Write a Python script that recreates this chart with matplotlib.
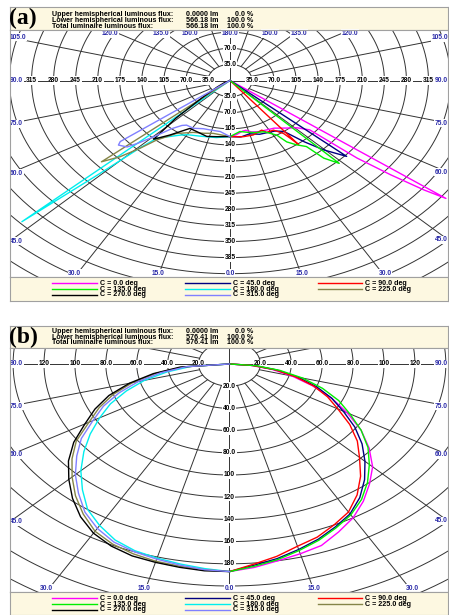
import numpy as np
import matplotlib.pyplot as plt

plt.rcParams['font.family'] = ['Liberation Sans', 'DejaVu Sans']

# ---------------- panel (a): gamma (deg) / intensity (cd) per C-plane ----------------
a_gamma_c0 = [0, 5, 10, 13, 17, 22, 28, 34, 41, 46, 49.7, 50.1, 51.2, 52.3, 53.2, 53.7]
a_cd_c0 = [122, 118, 112, 111, 117, 120, 122, 125, 137, 148, 166, 263, 327, 389, 428, 0]
a_gamma_c45 = [0, 8, 15, 22, 28, 33, 37.7, 41.5, 44.6, 48.3, 49.0]
a_cd_c45 = [122, 124, 120, 126, 128, 131, 140, 178, 212, 248, 0]
a_gamma_c90 = [0, 9.8, 17.3, 25, 27.3, 32.6, 36.4, 37.5, 38.0, 38.5]
a_cd_c90 = [122, 124, 124, 119, 127, 128, 143, 162, 177, 0]
a_gamma_c135 = [0, 8, 14, 19.4, 26, 32, 34, 37, 40.2, 41.4, 43.9, 44.4]
a_cd_c135 = [122, 112, 116, 120, 124, 140, 161, 175, 188, 225, 250, 0]
a_gamma_c180 = [0, 10, 21.5, 30, 33.8, 42.8, 44.3, 45.6, 47.1, 47.6]
a_cd_c180 = [122, 126, 130, 136, 143, 171, 205, 288, 451, 0]
a_gamma_c225 = [0, 13, 20, 27.3, 36.4, 42, 44.1, 46.5, 49.1, 49.7]
a_cd_c225 = [122, 118, 122, 127, 143, 174, 205, 241, 270, 0]
a_gamma_c270 = [0, 10, 16.9, 25.4, 31.4, 38.8, 43.5, 46.4, 50.3, 55, 62, 75]
a_cd_c270 = [122, 124, 127, 123, 122, 152, 176, 118, 53, 25, 10, 0]
a_gamma_c315 = [0, 8, 16.4, 22, 29.2, 35.4, 38, 41.5, 44.5, 47, 48.5, 51.6, 52.7, 53.2]
a_cd_c315 = [122, 112, 112, 113, 119, 119, 124, 140, 170, 200, 218, 226, 219, 0]

# ---------------- panel (b): shared gamma grid ----------------
b_gamma = [0, 5, 10, 15, 20, 25, 30, 35, 40, 45, 50, 55, 60, 65, 70, 75, 80, 85, 90]
b_cd_c0 = [187, 184, 180, 177, 174, 167, 160, 151, 141, 131, 118, 104, 88, 73, 57, 42, 28, 14, 0]
b_cd_c45 = [187, 182, 178, 173, 168, 162, 156, 147, 136, 124, 112, 99, 85, 73, 60, 46, 31, 16, 0]
b_cd_c90 = [187, 181, 176, 170, 166, 160, 154, 144, 132, 119, 108, 95, 81, 70, 58, 44, 30, 15, 0]
b_cd_c135 = [187, 183, 179, 174, 169, 163, 157, 149, 139, 128, 117, 104, 90, 78, 64, 49, 33, 17, 0]
b_cd_c180 = [187, 185, 183, 181, 179, 175, 168, 160, 148, 136, 123, 110, 97, 85, 71, 57, 41, 25, 0]
b_cd_c225 = [187, 186, 185, 184, 182, 179, 174, 165, 155, 144, 133, 121, 105, 93, 80, 65, 48, 30, 0]
b_cd_c270 = [187, 187, 186, 185, 184, 181, 176, 168, 158, 147, 136, 123, 108, 96, 83, 67, 50, 32, 0]
b_cd_c315 = [187, 186, 184, 182, 180, 177, 171, 163, 152, 141, 129, 117, 102, 90, 76, 61, 45, 28, 0]

c_planes = [0, 45, 90, 135, 180, 225, 270, 315]
c_colors = ['#ff00ff', '#000080', '#ff0000', '#00ee00', '#00eeee', '#858548', '#000000', '#8080ff']

a_curves = [(a_gamma_c0, a_cd_c0), (a_gamma_c45, a_cd_c45), (a_gamma_c90, a_cd_c90),
            (a_gamma_c135, a_cd_c135), (a_gamma_c180, a_cd_c180), (a_gamma_c225, a_cd_c225),
            (a_gamma_c270, a_cd_c270), (a_gamma_c315, a_cd_c315)]
b_curves = [(b_gamma, c) for c in [b_cd_c0, b_cd_c45, b_cd_c90, b_cd_c135,
                                   b_cd_c180, b_cd_c225, b_cd_c270, b_cd_c315]]

a_flux = ['0.0000 lm', '566.18 lm', '566.18 lm']
b_flux = ['0.0000 lm', '576.41 lm', '576.41 lm']
flux_rows = ['Upper hemispherical luminous flux:', 'Lower hemispherical luminous flux:',
             'Total luminaire luminous flux:']
flux_pct = ['0.0 %', '100.0 %', '100.0 %']

W, H = 449, 615
fig = plt.figure(figsize=(W / 100, H / 100), dpi=100)
cream = '#fdf8e1'
edge = '#a0a0a0'
grid = '#333333'
blue = '#2a2aa8'
fs_box = 5.1
fs_lab = 4.8


def px_axes(x0, y0, x1, y1):
    ax = fig.add_axes([x0 / W, 1 - y1 / H, (x1 - x0) / W, (y1 - y0) / H])
    ax.set_xticks([])
    ax.set_yticks([])
    for s in ax.spines.values():
        s.set_color(edge)
        s.set_linewidth(0.8)
    return ax


def header(y0, y1, flux, tag, rows_y):
    ax = px_axes(10, y0, 448, y1)
    ax.set_facecolor(cream)
    ax.set_xlim(10, 448)
    ax.set_ylim(y1, y0)
    for lab, fl, pc, y in zip(flux_rows, flux, flux_pct, rows_y):
        ax.text(52, y, lab, fontsize=fs_box, weight='bold', va='center')
        ax.text(186, y, fl, fontsize=fs_box, weight='bold', va='center')
        ax.text(253, y, pc, fontsize=fs_box, weight='bold', va='center', ha='right')
    fig.text(9 / W, 1 - (y0 + y1) / 2 / H, tag, family='Liberation Serif', weight='bold',
             fontsize=17, va='center', ha='left')


def legend(y0, y1, rows_y):
    ax = px_axes(10, y0, 448, y1)
    ax.set_facecolor(cream)
    ax.set_xlim(10, 448)
    ax.set_ylim(y1, y0)
    cols = [(52, 97), (185, 230), (318, 362)]
    for i, (c, col) in enumerate(zip(c_planes, c_colors)):
        r, k = divmod(i, 3)
        xa, xb = cols[k]
        y = rows_y[r]
        ax.plot([xa, xb], [y, y], color=col, lw=1.0)
        ax.text(xb + 3, y, f'C = {c:.1f} deg', fontsize=fs_box, weight='bold', va='center')


def fmt(v):
    return f'{v:.1f}' if v < 100 else f'{v:.0f}'


def polar(box, xlim, ylim, step, nrings, angle_labels, curves):
    ax = px_axes(*box)
    ax.set_xlim(xlim)
    ax.set_ylim(ylim)
    t = np.linspace(0, 2 * np.pi, 721)
    rings = [step * k for k in range(1, nrings + 1)]
    for r in rings:
        ax.plot(r * np.sin(t), r * np.cos(t), color=grid, lw=0.7, zorder=1)
    rmax = rings[-1]
    ax.plot([xlim[0], xlim[1]], [0, 0], color=grid, lw=0.7, zorder=1)
    ax.plot([0, 0], [ylim[0], ylim[1]], color=grid, lw=0.7, zorder=1)
    for g in range(15, 180, 15):
        if g == 90:
            continue
        gr = np.radians(g)
        for s in (-1, 1):
            ax.plot([s * step * np.sin(gr), s * rmax * np.sin(gr)],
                    [-step * np.cos(gr), -rmax * np.cos(gr)], color=grid, lw=0.7, zorder=1)
    bb = dict(boxstyle='square,pad=0.08', fc='white', ec='none')
    mx = 0.04 * (xlim[1] - xlim[0])
    my = 0.04 * (ylim[1] - ylim[0])
    for r in rings:
        if r < xlim[1] - mx:
            for s in (-1, 1):
                ax.text(s * r, 0, fmt(r), fontsize=fs_lab, weight='bold', ha='center',
                        va='center', bbox=bb, zorder=2)
        if r < -ylim[0] - my:
            ax.text(0, -r, fmt(r), fontsize=fs_lab, weight='bold', ha='center', va='center',
                    bbox=bb, zorder=2)
        if r < ylim[1] - my:
            ax.text(0, r, fmt(r), fontsize=fs_lab, weight='bold', ha='center', va='center',
                    bbox=bb, zorder=2)
    for g in angle_labels:
        gr = np.radians(g)
        sides = (1,) if g in (0, 180) else (-1, 1)
        for s in sides:
            dx, dy = s * np.sin(gr), -np.cos(gr)
            hits = []
            if dx > 1e-9:
                hits.append((xlim[1] / dx, 'r'))
            if dx < -1e-9:
                hits.append((xlim[0] / dx, 'l'))
            if dy > 1e-9:
                hits.append((ylim[1] / dy, 't'))
            if dy < -1e-9:
                hits.append((ylim[0] / dy, 'b'))
            tt, e = min(hits)
            ha = {'r': 'right', 'l': 'left'}.get(e, 'center')
            va = {'t': 'top', 'b': 'bottom'}.get(e, 'center')
            ax.text(tt * dx, tt * dy, f'{g:.1f}', fontsize=fs_lab, weight='bold', color=blue,
                    ha=ha, va=va, bbox=bb, zorder=2)
    for c, col, (gam, cd) in zip(c_planes, c_colors, curves):
        s = 1 if c < 180 else -1
        gr = np.radians(gam)
        cd = np.asarray(cd, float)
        ax.plot(s * cd * np.sin(gr), -cd * np.cos(gr), color=col, lw=1.0, zorder=3,
                solid_joinstyle='round')
    return ax


# panel (a)
header(7, 30, a_flux, '(a)', [14.7, 20.5, 26.3])
polar((10, 30, 448, 277), (-349.2, 346.0), (-427.2, 109.8), 35, 17,
      [0, 15, 30, 45, 60, 75, 90, 105, 120, 135, 150, 180], a_curves)
legend(277, 301, [283.3, 289.1, 294.9])

# panel (b)
header(326, 348, b_flux, '(b)', [331.3, 337.1, 342.9])
polar((10, 348, 448, 592), (-142.0, 141.4), (-205.4, 14.4), 20, 15,
      [0, 15, 30, 45, 60, 75, 90], b_curves)
legend(592, 615, [598.3, 604.1, 609.9])

fig.savefig('out.png', dpi=100)
